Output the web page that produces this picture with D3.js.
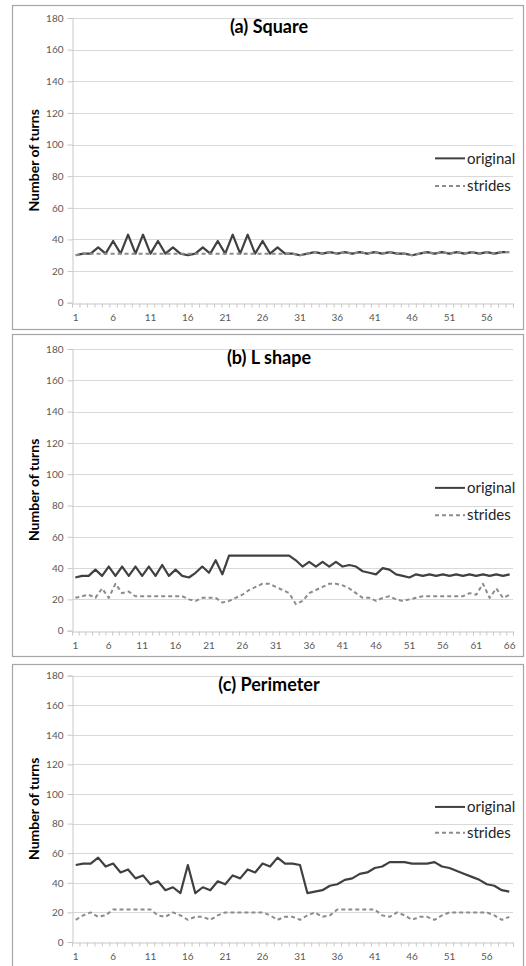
<!DOCTYPE html>
<html>
<head>
<meta charset="utf-8">
<script src="https://cdn.jsdelivr.net/npm/d3@7"></script>
<style>
  body { margin: 0; background: #fff; }
  svg { display: block; }
</style>
</head>
<body>
<svg id="chart"></svg>
<script>
// values
let yTicks = [0, 20, 40, 60, 80, 100, 120, 140, 160, 180];
let seriesNames = ['original', 'strides'];

let squareOriginal = [30,31,31,35,31,39,31,43,31,43, 31,39,31,35,31,30,31,35,31,39,
                      31,43,31,43,31,39,31,35,31,31, 30,31,32,31,32,31,32,31,32,31,
                      32,31,32,31,31,30,31,32,31,32, 31,32,31,32,31,32,31,32,32];
let squareStrides = [30,31,31,31,31,31,31,31,31,31, 31,31,31,31,31,31,31,31,31,31,
                     31,31,31,31,31,31,31,31,31,31, 30,31,32,31,32,31,32,31,32,31,
                     32,31,32,31,31,30,31,32,31,32, 31,32,31,32,31,32,31,32,32];

let lShapeOriginal = [34,35,35,39,35,41,35,41,35,41, 35,41,35,42,35,39,35,34,37,41,
                      37,45,36,48,48,48,48,48,48,48, 48,48,48,45,41,44,41,44,41,44,
                      41,42,41,38,37,36,40,39,36,35, 34,36,35,36,35,36,35,36,35,36,
                      35,36,35,36,35,36];
let lShapeStrides = [21,22,23,21,27,21,30,24,25,22, 22,22,22,22,22,22,22,20,19,21,
                     21,21,18,19,21,23,26,28,30,30, 28,26,24,17,19,24,26,28,30,30,
                     29,27,24,21,21,19,21,22,20,19, 20,21,22,22,22,22,22,22,22,24,
                     23,30,21,27,21,23];

let perimeterOriginal = [52,53,53,57,51,53,47,49,43,45, 39,41,35,37,33,52,33,37,35,41,
                         39,45,43,49,47,53,51,57,53,53, 52,33,34,35,38,39,42,43,46,47,
                         50,51,54,54,54,53,53,53,54,51, 50,48,46,44,42,39,38,35,34];
let perimeterStrides = [15,18,20,17,18,22,22,22,22,22, 22,18,17,20,18,15,17,17,15,18,
                        20,20,20,20,20,20,18,15,17,17, 15,18,20,17,18,22,22,22,22,22,
                        22,18,17,20,18,15,17,17,15,18, 20,20,20,20,20,20,18,15,17];

let titles = ['(a) Square', '(b) L shape', '(c) Perimeter'];

let width = 526;
let height = 966;

// layout of the three stacked panels
let panels = [
    {title: titles[0], original: squareOriginal, strides: squareStrides,
     boxTop: 5, boxBottom: 329, plotTop: 18, plotBottom: 302.7},
    {title: titles[1], original: lShapeOriginal, strides: lShapeStrides,
     boxTop: 334, boxBottom: 656, plotTop: 349, plotBottom: 630.7},
    {title: titles[2], original: perimeterOriginal, strides: perimeterStrides,
     boxTop: 664, boxBottom: 972, plotTop: 675.6, plotBottom: 942}
];

let plotLeft = 72;
let plotRight = 513;

let svg = d3.select('#chart')
    .attr('width', width)
    .attr('height', height);

let drawPanel = (p) => {
    let n = p.original.length;
    let cats = d3.range(1, n + 1);

    let xScale = d3.scaleBand()
        .domain(cats)
        .range([plotLeft, plotRight])
        .padding(0);
    let xEdge = d3.scaleLinear()
        .domain([0, n])
        .range([plotLeft, plotRight]);
    let yScale = d3.scaleLinear()
        .domain([0, 180])
        .range([p.plotBottom, p.plotTop]);

    let g = svg.append('g');

    // panel frame
    g.append('rect')
        .attr('x', 12.5)
        .attr('y', p.boxTop + 0.5)
        .attr('width', 511)
        .attr('height', p.boxBottom - p.boxTop)
        .attr('fill', '#fff')
        .attr('stroke', '#a6a6a6')
        .attr('stroke-width', 1.2);

    // gridlines
    g.selectAll('.grid')
        .data(yTicks.filter(d => d > 0))
        .enter()
        .append('line')
        .attr('x1', plotLeft)
        .attr('x2', plotRight)
        .attr('y1', d => Math.round(yScale(d)) + 0.5)
        .attr('y2', d => Math.round(yScale(d)) + 0.5)
        .attr('stroke', '#d9d9d9')
        .attr('stroke-width', 1);

    // y axis
    let yAxis = d3.axisLeft(yScale)
        .tickValues(yTicks)
        .tickSize(5)
        .tickPadding(4);
    let ya = g.append('g')
        .attr('transform', 'translate(' + (plotLeft + 0.5) + ',0)')
        .call(yAxis);
    ya.select('.domain').attr('stroke', '#c8c8c8');
    ya.selectAll('.tick line').attr('stroke', '#c8c8c8');
    ya.selectAll('text')
        .attr('fill', '#595959')
        .style('font', '10px Lato, "Liberation Sans", sans-serif');

    // x axis: minor ticks on category edges, labels every 5th
    let xa = g.append('g')
        .attr('transform', 'translate(0,' + (Math.round(p.plotBottom) + 0.5) + ')')
        .call(d3.axisBottom(xEdge).tickValues(d3.range(n + 1)).tickSize(4).tickFormat(''));
    xa.select('.domain').attr('stroke', '#c8c8c8');
    xa.selectAll('.tick line').attr('stroke', '#c8c8c8');

    let xl = g.append('g')
        .attr('transform', 'translate(0,' + (Math.round(p.plotBottom) + 0.5) + ')')
        .call(d3.axisBottom(xScale).tickValues(cats.filter(c => (c - 1) % 5 === 0)).tickSize(0).tickPadding(10));
    xl.select('.domain').remove();
    xl.selectAll('text')
        .attr('fill', '#595959')
        .style('font', '10px Lato, "Liberation Sans", sans-serif');

    // lines
    let line = d3.line()
        .x((d, i) => xScale(cats[i]) + xScale.bandwidth() / 2)
        .y(d => yScale(d));

    g.append('path')
        .datum(p.original)
        .attr('d', line)
        .attr('fill', 'none')
        .attr('stroke', '#404040')
        .attr('stroke-width', 2.2)
        .attr('stroke-linejoin', 'round');

    g.append('path')
        .datum(p.strides)
        .attr('d', line)
        .attr('fill', 'none')
        .attr('stroke', '#8c8c8c')
        .attr('stroke-width', 2)
        .attr('stroke-dasharray', '4,3')
        .attr('stroke-linejoin', 'round');

    // title
    g.append('text')
        .attr('x', 269)
        .attr('y', p.plotTop + 15)
        .attr('text-anchor', 'middle')
        .attr('fill', '#000')
        .style('font', 'bold 18px Lato, "Open Sans", sans-serif')
        .text(p.title);

    // y axis title
    let midY = (p.plotTop + p.plotBottom) / 2;
    g.append('text')
        .attr('transform', 'translate(39,' + midY + ') rotate(-90)')
        .attr('text-anchor', 'middle')
        .attr('fill', '#000')
        .style('font', 'bold 14px Lato, "Open Sans", sans-serif')
        .text('Number of turns');

    // legend
    let span = p.plotBottom - p.plotTop;
    let legendY = [p.plotTop + 0.493 * span, p.plotTop + 0.59 * span];
    seriesNames.forEach((name, i) => {
        g.append('line')
            .attr('x1', 435)
            .attr('x2', 465)
            .attr('y1', legendY[i])
            .attr('y2', legendY[i])
            .attr('stroke', i === 0 ? '#404040' : '#8c8c8c')
            .attr('stroke-width', 2)
            .attr('stroke-dasharray', i === 0 ? null : '4,3');
        g.append('text')
            .attr('x', 467)
            .attr('y', legendY[i])
            .attr('dy', '0.35em')
            .attr('fill', '#262626')
            .style('font', '15px Lato, "Open Sans", sans-serif')
            .text(name);
    });
};

panels.forEach(drawPanel);
</script>
</body>
</html>
